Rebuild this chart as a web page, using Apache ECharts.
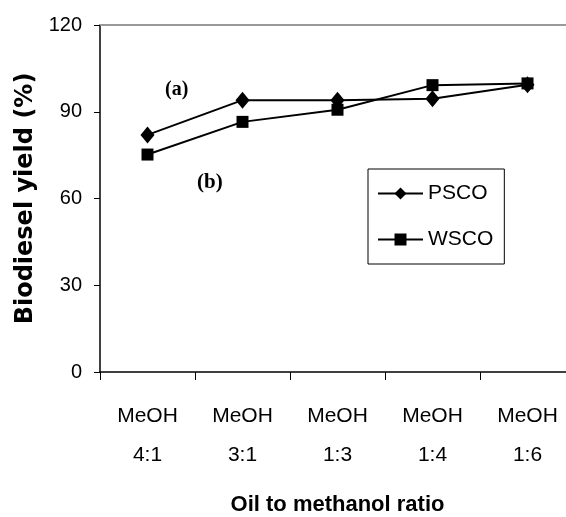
<!DOCTYPE html>
<html>
<head>
<meta charset="utf-8">
<script src="https://cdn.jsdelivr.net/npm/echarts@6/dist/echarts.min.js"></script>
<style>
  html, body { margin: 0; padding: 0; background: #fff; }
  #main { width: 566px; height: 517px; }
</style>
</head>
<body>
<div id="main"></div>
<script>
// 数据
var categories = ["MeOH\n4:1", "MeOH\n3:1", "MeOH\n1:3", "MeOH\n1:4", "MeOH\n1:6"];
var psco = [82, 94, 94, 94.5, 99.3];
var wsco = [75.2, 86.5, 90.7, 99.2, 99.8];
var yTicks = [0, 30, 60, 90, 120];

var chart = echarts.init(document.getElementById("main"));

var sans = "'Liberation Sans', Arial, sans-serif";
var serif = "'Liberation Serif', 'Times New Roman', serif";

var option = {
  animation: false,
  backgroundColor: "#fff",
  grid: {
    left: 100,
    top: 25,
    width: 475,
    height: 347,
    outerBoundsMode: "none"
  },
  legend: {
    orient: "vertical",
    left: 368,
    top: 169,
    padding: [14, 11, 14, 9],
    itemGap: 25,
    itemWidth: 45,
    itemHeight: 15,
    borderColor: "#000",
    borderWidth: 1,
    textStyle: {
      color: "#000",
      fontSize: 21,
      fontFamily: sans,
      padding: [0, 0, 0, 0]
    },
    data: ["PSCO", "WSCO"]
  },
  xAxis: [
    {
      type: "category",
      data: categories,
      boundaryGap: true,
      axisLine: { lineStyle: { color: "#000", width: 1.5 } },
      axisTick: { show: true, length: 8, alignWithLabel: false, lineStyle: { color: "#000" } },
      axisLabel: {
        color: "#000",
        fontSize: 21,
        fontFamily: sans,
        lineHeight: 39,
        margin: 25,
        interval: 0
      },
      name: "Oil to methanol ratio",
      nameLocation: "middle",
      nameGap: 122,
      nameTextStyle: {
        color: "#000",
        fontSize: 22,
        fontWeight: "bold",
        fontFamily: sans
      }
    },
    {
      type: "category",
      position: "top",
      data: categories,
      axisLine: { lineStyle: { color: "#999", width: 2 } },
      axisTick: { show: false },
      axisLabel: { show: false }
    }
  ],
  yAxis: {
    type: "value",
    min: 0,
    max: 120,
    interval: 30,
    axisLine: { show: true, lineStyle: { color: "#000", width: 1.5 } },
    axisTick: { show: true, inside: false, length: 6, lineStyle: { color: "#000" } },
    splitLine: { show: false },
    axisLabel: {
      color: "#000",
      fontSize: 20,
      fontFamily: sans,
      margin: 18,
      formatter: function (v) {
        return yTicks.indexOf(v) >= 0 ? String(v) : "";
      }
    },
    name: "Biodiesel yield (%)",
    nameLocation: "middle",
    nameGap: 59,
    nameTextStyle: {
      color: "#000",
      fontSize: 24,
      fontWeight: "bold",
      fontFamily: "'DejaVu Sans', sans-serif"
    }
  },
  graphic: [
    {
      type: "text",
      left: 165,
      top: 80,
      style: {
        text: "(a)",
        fill: "#000",
        font: "bold 20px " + serif
      }
    },
    {
      type: "text",
      left: 197,
      top: 172,
      style: {
        text: "(b)",
        fill: "#000",
        font: "bold 21px " + serif
      }
    }
  ],
  series: [
    {
      name: "PSCO",
      type: "line",
      data: psco,
      symbol: "diamond",
      symbolSize: [14, 17],
      showAllSymbol: true,
      lineStyle: { color: "#000", width: 2 },
      itemStyle: { color: "#000" }
    },
    {
      name: "WSCO",
      type: "line",
      data: wsco,
      symbol: "rect",
      symbolSize: 12,
      showAllSymbol: true,
      lineStyle: { color: "#000", width: 2 },
      itemStyle: { color: "#000" }
    }
  ]
};

chart.setOption(option);
</script>
</body>
</html>
